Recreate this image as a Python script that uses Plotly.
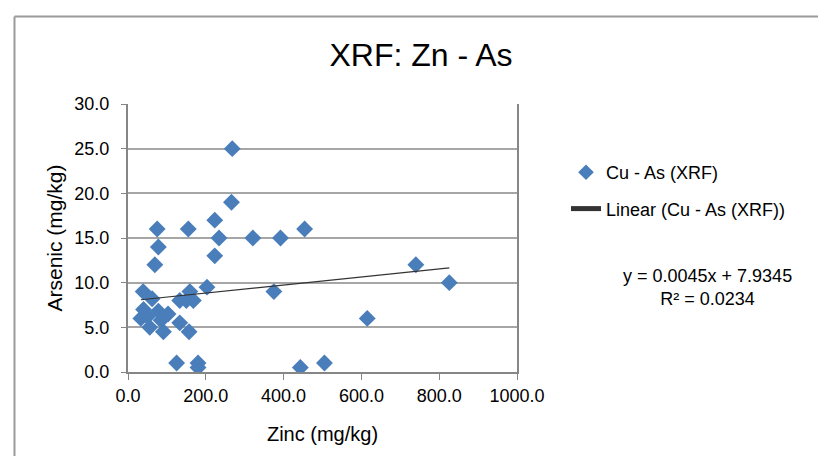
import plotly.graph_objects as go

# Data (Zinc mg/kg, Arsenic mg/kg)
zinc = [268, 266, 223, 75, 155, 454, 78, 234, 321, 392, 223, 69, 740, 826,
        203, 159, 39, 375, 62, 133, 168, 40, 78, 103, 33, 50, 85, 56, 91,
        133, 157, 615, 125, 180, 180, 443, 505, 150]
arsenic = [25, 19, 17, 16, 16, 16, 14, 15, 15, 15, 13, 12, 12, 10,
           9.5, 9, 9, 9, 8.2, 8, 8, 7, 6.8, 6.5, 6, 6.2, 5.8, 5, 4.5,
           5.5, 4.5, 6, 1, 1, 0.5, 0.5, 1, 8]

slope = 0.0045
intercept = 7.9345
r2 = 0.0234

x_ticks = [0, 200, 400, 600, 800, 1000]
y_ticks = [0, 5, 10, 15, 20, 25, 30]

FONT = "Liberation Sans"
BLUE = "#4a7ebb"
GRID = "#a6a6a6"

x_min, x_max = min(zinc), max(zinc)
trend_x = [x_min, x_max]
trend_y = [slope * v + intercept for v in trend_x]

fig = go.Figure()
fig.add_trace(go.Scatter(
    x=zinc, y=arsenic, mode="markers", name="Cu - As (XRF)", legendgroup="a",
    marker=dict(symbol="diamond", size=13, color=BLUE, line=dict(width=0)),
))
fig.add_trace(go.Scatter(
    x=trend_x, y=trend_y, mode="lines", name="Linear (Cu - As (XRF))",
    legendgroup="b", line=dict(color="#333333", width=1.1),
))

L, R, T, B = 128, 517, 104, 372
W, H = 818, 456

def px(xp):
    return (xp - L) / (R - L)

def py(yp):
    return (B - yp) / (B - T)

shapes = [
    dict(type="line", xref="paper", yref="paper", x0=px(14.5), x1=px(830),
         y0=py(16.5), y1=py(16.5), line=dict(color="#9a9a9a", width=2)),
    dict(type="line", xref="paper", yref="paper", x0=px(14.5), x1=px(14.5),
         y0=py(16.5), y1=py(470), line=dict(color="#9a9a9a", width=2)),
]

fig.update_layout(
    width=W, height=H,
    margin=dict(l=L, r=W - R, t=T, b=H - B),
    paper_bgcolor="white", plot_bgcolor="white",
    font=dict(family=FONT, size=18, color="#000000"),
    title=dict(text="XRF: Zn - As", x=421 / W, xanchor="center",
               y=1 - 55 / H, yanchor="middle",
               font=dict(family=FONT, size=32, color="#000000")),
    showlegend=True,
    legend=dict(x=px(566), xanchor="left", y=py(154), yanchor="top",
                font=dict(family=FONT, size=18), bgcolor="rgba(0,0,0,0)",
                tracegroupgap=10, itemsizing="constant"),
    shapes=shapes,
    annotations=[
        dict(text=f"y = {slope}x + {intercept}<br>R² = {r2}",
             xref="paper", yref="paper", x=px(707), y=py(287),
             xanchor="center", yanchor="middle", showarrow=False,
             align="center", font=dict(family=FONT, size=18)),
    ],
)

fig.update_xaxes(
    range=[0, 1000], tickvals=x_ticks, ticktext=[f"{v:.1f}" for v in x_ticks],
    showgrid=False, zeroline=False, showline=True, linecolor="#868686",
    linewidth=2, ticks="outside", ticklen=6, tickcolor="#868686",
    title=dict(text="Zinc (mg/kg)", font=dict(family=FONT, size=20), standoff=22),
    tickfont=dict(family=FONT, size=18),
)
fig.update_yaxes(
    range=[0, 30], tickvals=y_ticks, ticktext=[f"{v:.1f}" for v in y_ticks],
    showgrid=True, gridcolor=GRID, gridwidth=1.5, zeroline=False,
    showline=True, linecolor="#868686", linewidth=2, mirror=True,
    ticks="outside", ticklen=5, tickcolor="#868686", ticklabelstandoff=8,
    title=dict(text="Arsenic (mg/kg)", font=dict(family=FONT, size=21), standoff=6),
    tickfont=dict(family=FONT, size=18),
)

fig.write_html("out.html")
